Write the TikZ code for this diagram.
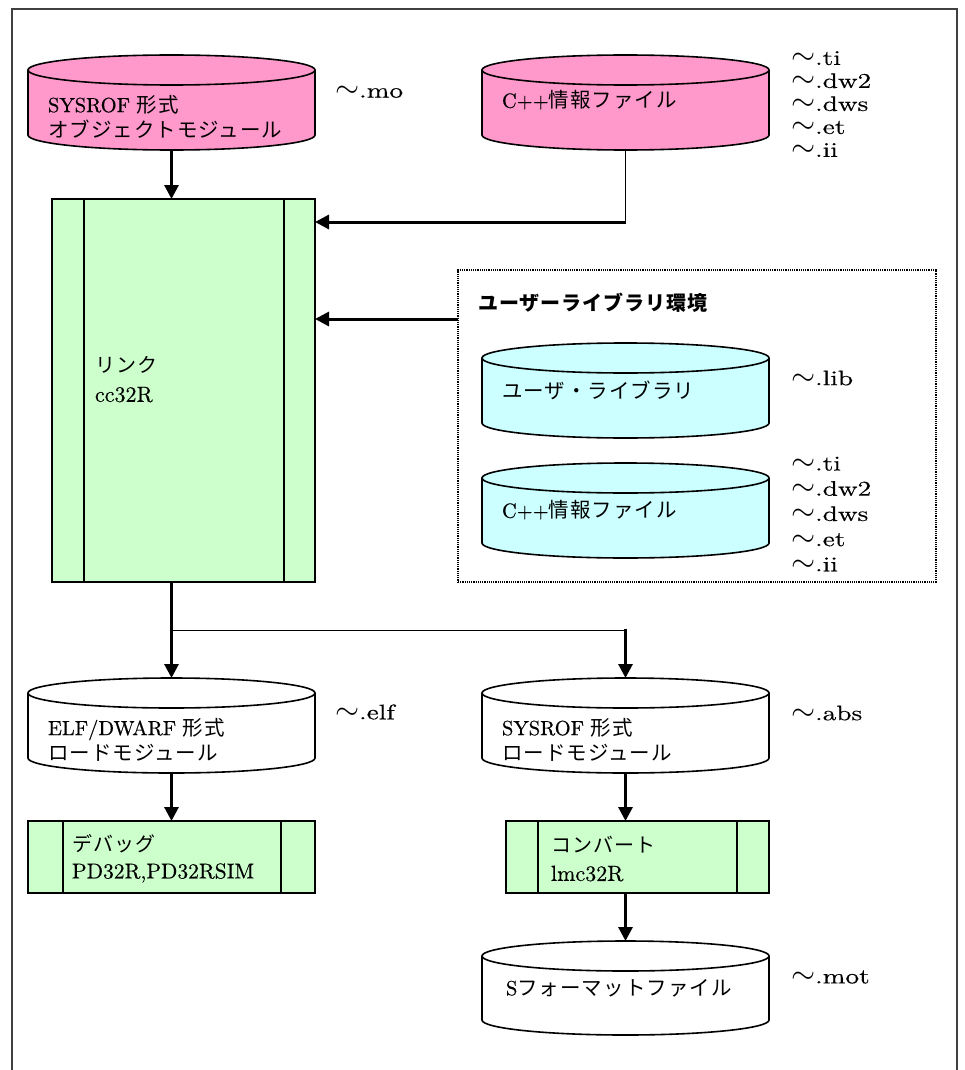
\RequirePackage{fix-cm}
\documentclass[tikz,border=0pt]{standalone}
\usepackage{fontspec}
\setmainfont{lmroman10-regular.otf}[FakeBold=0.4, BoldFont=lmroman10-bold.otf]
\newfontfamily\jp[LetterSpace=5]{Noto Sans CJK JP}
\newfontfamily\lab[FakeStretch=1.3, FakeBold=0.4]{lmroman10-regular.otf}
\usetikzlibrary{arrows.meta,calc}

\definecolor{pinkfill}{HTML}{FF99CC}
\definecolor{cyanfill}{HTML}{CCFFFF}
\definecolor{greenfill}{HTML}{CCFFCC}

\tikzset{
  every node/.style={inner sep=0pt, outer sep=0pt},
  store/.style={minimum width=287pt, minimum height=95pt},
  outline/.style={line width=1.6pt},
  proc/.style={draw, outline, fill=greenfill},
  flow/.style={line width=3pt, -{Triangle[width=14pt,length=14pt]}},
  feed/.style={line width=0.9pt},
  txt/.style={anchor=west, align=left, font=\fontsize{20.5}{25}\selectfont},
  ptxt/.style={anchor=west, align=left, font=\fontsize{22}{28}\selectfont},
  ext/.style={anchor=west, align=left, font=\fontsize{21}{23}\selectfont\lab},
  extwide/.style={ext, font=\fontsize{21}{25.2}\selectfont\lab},
}

% disk symbol drawn over the extent of a named node
\newcommand\diskat[2]{%
  \draw[outline, fill=#2]
    ([yshift=-15pt]#1.north west) -- ([yshift=15pt]#1.south west)
    arc[start angle=180, end angle=360, x radius=143.5pt, y radius=15pt]
    -- ([yshift=-15pt]#1.north east)
    arc[start angle=0, end angle=180, x radius=143.5pt, y radius=15pt] -- cycle;
  \draw[outline] ([yshift=-15pt]#1.north west)
    arc[start angle=180, end angle=360, x radius=143.5pt, y radius=15pt];
}
% side bars of a predefined-process box
\newcommand\procbars[3]{%
  \draw[outline] ([xshift=#2]#1.north west) -- ([xshift=#2]#1.south west);
  \draw[outline] ([xshift=-#3]#1.north east) -- ([xshift=-#3]#1.south east);
}
% file-name suffix with a leading wave sign
\newcommand\sfx[1]{{\fontsize{31}{23}\selectfont$\sim$}#1}

\begin{document}
\begin{tikzpicture}[x=1pt, y=-1pt]
\useasboundingbox (0,0) rectangle (964,1070);

% page frame (open at the bottom)
\draw[line width=1.5pt, black!75] (12,1070) -- (12,9) -- (957,9) -- (957,1070);

% ---- inputs
\node[store] (mo) at (171.5,102.5) {};
\diskat{mo}{pinkfill}
\node[txt] (mo-t) at (48,116.5) {SYSROF {\jp 形式}\\{\jp オブジェクトモジュール}};
\node[ext] (mo-x) at (335,92) {\sfx{.mo}};

\node[store] (cpp1) at (625.5,102.5) {};
\diskat{cpp1}{pinkfill}
\node[txt] (cpp1-t) at (502,100) {C++{\jp 情報ファイル}};
\node[ext] (cpp1-x) at (791,104) {\sfx{.ti}\\\sfx{.dw2}\\\sfx{.dws}\\\sfx{.et}\\\sfx{.ii}};

% ---- linker
\node[proc, minimum width=263pt, minimum height=383pt] (link) at (183.5,390.5) {};
\procbars{link}{32pt}{31pt}
\node[ptxt, font=\fontsize{22}{29}\selectfont] (link-t) at (95,379.5) {{\jp\fontsize{20}{29}\selectfont リンク}\\cc32R};

% ---- user library environment
\node[draw, line width=1.2pt, densely dotted, minimum width=478pt, minimum height=312pt] (libenv) at (697,426) {};
\node[anchor=west, font=\fontsize{20}{24}\selectfont\jp\bfseries] (libenv-t) at (478,303) {ユーザーライブラリ環境};

\node[store] (lib) at (625.5,390.5) {};
\diskat{lib}{cyanfill}
\node[txt] (lib-t) at (502,390) {{\jp ユーザ・ライブラリ}};
\node[ext] (lib-x) at (791,378) {\sfx{.lib}};

\node[store] (cpp2) at (625.5,510.5) {};
\diskat{cpp2}{cyanfill}
\node[txt] (cpp2-t) at (502,510) {C++{\jp 情報ファイル}};
\node[extwide] (cpp2-x) at (791,514) {\sfx{.ti}\\\sfx{.dw2}\\\sfx{.dws}\\\sfx{.et}\\\sfx{.ii}};

% ---- outputs
\node[store] (elf) at (171.5,725.5) {};
\diskat{elf}{white}
\node[txt] (elf-t) at (48,739.5) {ELF/DWARF {\jp 形式}\\{\jp ロードモジュール}};
\node[ext] (elf-x) at (335,712) {\sfx{.elf}};

\node[store] (abs) at (625.5,725.5) {};
\diskat{abs}{white}
\node[txt] (abs-t) at (502,739.5) {SYSROF {\jp 形式}\\{\jp ロードモジュール}};
\node[ext] (abs-x) at (791,713) {\sfx{.abs}};

\node[proc, minimum width=287pt, minimum height=72pt] (debug) at (171.5,857) {};
\procbars{debug}{35pt}{34pt}
\node[ptxt, font=\fontsize{21.5}{27}\selectfont] (debug-t) at (72,858.5) {{\jp\fontsize{20}{27}\selectfont デバッグ}\\PD32R,PD32RSIM};

\node[proc, minimum width=263pt, minimum height=72pt] (conv) at (637.5,857) {};
\procbars{conv}{32pt}{32pt}
\node[ptxt] (conv-t) at (551,859) {{\jp\fontsize{20}{28}\selectfont コンバート}\\lmc32R};

\node[store, minimum height=94pt] (mot) at (625.5,988) {};
\diskat{mot}{white}
\node[txt] (mot-t) at (506,988) {S{\jp フォーマットファイル}};
\node[ext] (mot-x) at (791,977) {\sfx{.mot}};

% ---- connectors
\draw[flow] (mo.south) -- (mo.south |- link.north);

\draw[feed] (cpp1.south) -- (cpp1.south |- 0,222) coordinate (c1);
\draw[flow] ([xshift=0.5pt]c1) -- (link.east |- c1);

\draw[flow] (libenv.west |- 0,319) -- (link.east |- 0,319);

\draw[flow] (elf.north |- link.south) -- (elf.north);
\coordinate (br) at (elf.north |- 0,630);
\draw[feed] (br) -- (abs.north |- br) coordinate (br2);
\draw[flow] ([yshift=1.5pt]br2) -- (abs.north);

\draw[flow] (elf.south) -- (debug.north);
\draw[flow] (abs.south) -- (abs.south |- conv.north);
\draw[flow] (mot.north |- conv.south) -- (mot.north);
\end{tikzpicture}
\end{document}
